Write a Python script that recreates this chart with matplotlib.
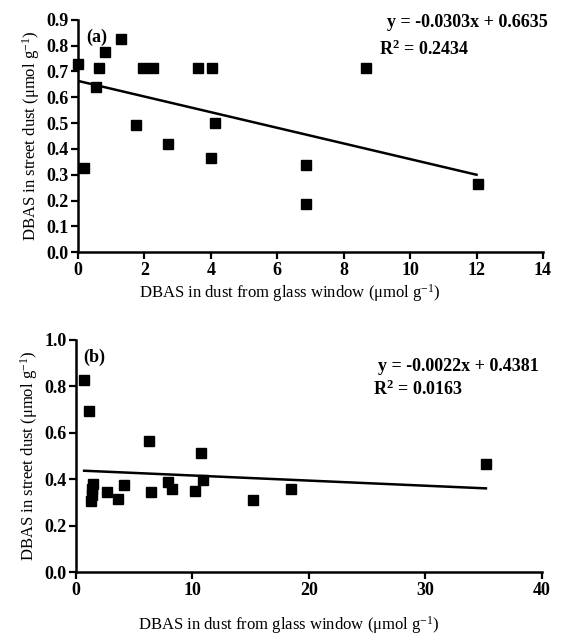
import matplotlib
matplotlib.use("Agg")
import matplotlib.pyplot as plt
import numpy as np
from matplotlib.ticker import FormatStrFormatter

# Panel (a) data
xa = [0.0, 0.18, 0.53, 0.64, 0.81, 1.31, 1.76, 1.96, 2.27, 2.72, 3.62, 4.04, 4.0, 4.12, 6.87, 6.87, 8.68, 12.03]
ya = [0.73, 0.325, 0.64, 0.715, 0.775, 0.827, 0.494, 0.715, 0.715, 0.42, 0.715, 0.715, 0.366, 0.50, 0.339, 0.186, 0.715, 0.265]
slope_a, icpt_a = -0.0303, 0.6635
fit_a_x = [0.0, 12.0]

# Panel (b) data
xb = [0.72, 1.12, 1.26, 1.35, 1.4, 1.45, 2.68, 3.63, 4.15, 6.29, 6.44, 7.93, 8.21, 10.21, 10.73, 10.93, 15.22, 18.5, 35.2]
yb = [0.825, 0.694, 0.307, 0.33, 0.36, 0.38, 0.347, 0.314, 0.374, 0.565, 0.344, 0.386, 0.357, 0.351, 0.512, 0.397, 0.311, 0.356, 0.466]
slope_b, icpt_b = -0.0022, 0.4381
fit_b_x = [0.7, 35.2]

xlabel = "DBAS in dust from glass window (\u03bcmol g$^{\u22121}$)"
ylabel = "DBAS in street dust (\u03bcmol g$^{\u22121}$)"

plt.rcParams['font.family'] = ['Liberation Serif', 'DejaVu Serif']
plt.rcParams['mathtext.fontset'] = 'custom'
plt.rcParams['mathtext.rm'] = 'Liberation Serif'
plt.rcParams['mathtext.it'] = 'Liberation Serif'
plt.rcParams['mathtext.bf'] = 'Liberation Serif:bold'

fig = plt.figure(figsize=(5.65, 6.4), dpi=100)
axa = fig.add_axes([0.138, 0.606, 0.823, 0.363])
axb = fig.add_axes([0.1345, 0.106, 0.8245, 0.363])

TICK = 13
LAB = 12
ANN = 13

def style(ax):
    for s in ['top', 'right']:
        ax.spines[s].set_visible(False)
    for s in ['left', 'bottom']:
        ax.spines[s].set_linewidth(1.8)
    ax.tick_params(direction='out', length=5, width=1.6, labelsize=TICK, pad=2)
    for lab in ax.get_xticklabels() + ax.get_yticklabels():
        lab.set_fontweight('bold')

# Panel a
axa.plot(xa, ya, 's', color='black', ms=6.5, clip_on=False, zorder=3)
fa = np.array(fit_a_x)
axa.plot(fa, slope_a * fa + icpt_a, color='black', lw=1.8)
axa.set_xlim(0, 14)
axa.set_ylim(0, 0.9)
axa.set_xticks(np.arange(0, 15, 2))
axa.set_yticks(np.arange(0, 0.91, 0.1))
axa.yaxis.set_major_formatter(FormatStrFormatter('%.1f'))
style(axa)
axa.set_xlabel(xlabel, fontsize=LAB)
axa.xaxis.set_label_coords(0.456, -0.13)
axa.set_ylabel(ylabel, fontsize=LAB, labelpad=3)
axa.text(0.018, 0.96, "(a)", transform=axa.transAxes, fontsize=ANN, fontweight='bold', va='top')
axa.text(0.665, 0.99, "y = -0.0303x + 0.6635", transform=axa.transAxes, fontsize=ANN,
         fontweight='bold', ha='left', va='center', clip_on=False)
axa.text(0.647, 0.875, r"R$^{\mathbf{2}}$ = 0.2434", transform=axa.transAxes, fontsize=ANN,
         fontweight='bold', ha='left', va='center')

# Panel b
axb.plot(xb, yb, 's', color='black', ms=6.5, clip_on=False, zorder=3)
fb = np.array(fit_b_x)
axb.plot(fb, slope_b * fb + icpt_b, color='black', lw=1.8)
axb.set_xlim(0, 40)
axb.set_ylim(0, 1.0)
axb.set_xticks(np.arange(0, 41, 10))
axb.set_yticks(np.arange(0, 1.01, 0.2))
axb.yaxis.set_major_formatter(FormatStrFormatter('%.1f'))
style(axb)
axb.set_xlabel(xlabel, fontsize=LAB)
axb.xaxis.set_label_coords(0.457, -0.18)
axb.set_ylabel(ylabel, fontsize=LAB, labelpad=3)
axb.text(0.015, 0.96, "(b)", transform=axb.transAxes, fontsize=ANN, fontweight='bold', va='top')
axb.text(0.648, 0.885, "y = -0.0022x + 0.4381", transform=axb.transAxes, fontsize=ANN,
         fontweight='bold', ha='left', va='center', clip_on=False)
axb.text(0.637, 0.785, r"R$^{\mathbf{2}}$ = 0.0163", transform=axb.transAxes, fontsize=ANN,
         fontweight='bold', ha='left', va='center')

fig.savefig("out.png", dpi=100)
